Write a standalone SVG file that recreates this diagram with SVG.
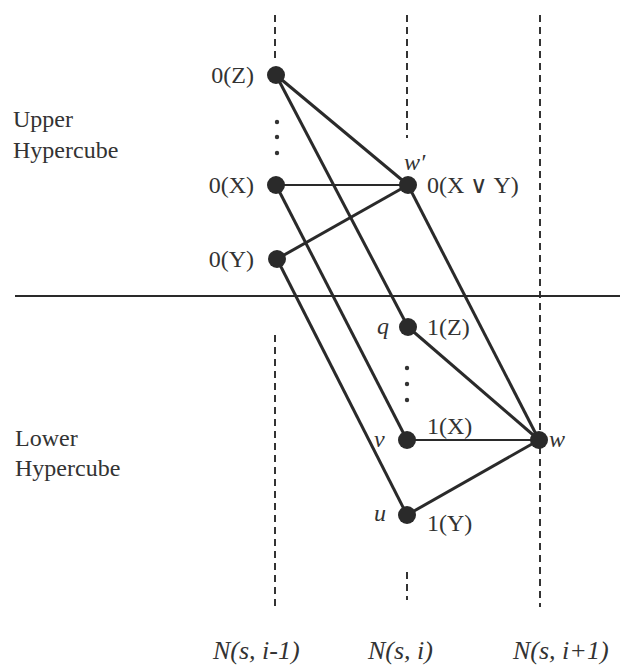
<svg xmlns="http://www.w3.org/2000/svg" width="620" height="665" viewBox="0 0 620 665">
<style>
.dash{stroke:#333;stroke-width:2;stroke-dasharray:7 5;fill:none}
.edge{stroke:#2a2a2a;stroke-width:3;fill:none}
.thin{stroke:#2a2a2a;stroke-width:2;fill:none}
.node{fill:#2a2a2a}
.dot{fill:#333}
text{font-family:"Liberation Serif","Times New Roman",serif;fill:#333;font-size:24px}
.it{font-style:italic}
.col{font-size:26px}
</style>
<rect width="620" height="665" fill="#fff"/>
<g id="guides">
<line class="dash" x1="275" y1="15" x2="275" y2="63"/>
<line class="dash" x1="275" y1="335" x2="275" y2="607"/>
<line class="dash" x1="407" y1="15" x2="407" y2="138"/>
<line class="dash" x1="407" y1="572" x2="407" y2="600"/>
<line class="dash" x1="540" y1="15" x2="540" y2="607"/>
<line x1="15" y1="296" x2="620" y2="296" stroke="#2a2a2a" stroke-width="2"/>
</g>
<g id="connectors">
<line class="edge" x1="276" y1="75" x2="408" y2="185"/>
<line class="edge" x1="276" y1="75" x2="408" y2="327"/>
<line class="thin" x1="276" y1="185" x2="408" y2="185"/>
<line class="edge" x1="276" y1="185" x2="407" y2="440"/>
<line class="edge" x1="277" y1="259" x2="408" y2="185"/>
<line class="edge" x1="277" y1="259" x2="407" y2="515"/>
<line class="edge" x1="408" y1="185" x2="539" y2="440"/>
<line class="edge" x1="408" y1="327" x2="539" y2="440"/>
<line class="thin" x1="407" y1="440" x2="539" y2="440"/>
<line class="edge" x1="407" y1="515" x2="539" y2="440"/>
</g>
<g id="ellipsis-upper">
<circle class="dot" cx="277" cy="122" r="2.2"/>
<circle class="dot" cx="277" cy="137" r="2.2"/>
<circle class="dot" cx="277" cy="153" r="2.2"/>
</g>
<g id="ellipsis-lower">
<circle class="dot" cx="407" cy="368" r="2.2"/>
<circle class="dot" cx="407" cy="384" r="2.2"/>
<circle class="dot" cx="407" cy="400" r="2.2"/>
</g>
<g id="n0Z"><circle class="node" cx="276" cy="75" r="9"/><text x="254" y="83" text-anchor="end">0(Z)</text></g>
<g id="n0X"><circle class="node" cx="276" cy="185" r="9"/><text x="254" y="193" text-anchor="end">0(X)</text></g>
<g id="n0Y"><circle class="node" cx="277" cy="259" r="9"/><text x="254" y="267" text-anchor="end">0(Y)</text></g>
<g id="wprime"><circle class="node" cx="408" cy="185" r="9"/><text class="it" x="404" y="170">w′</text><text x="427" y="193">0(X ∨ Y)</text></g>
<g id="q"><circle class="node" cx="408" cy="327" r="9"/><text class="it" x="377" y="334">q</text><text x="427" y="335">1(Z)</text></g>
<g id="v"><circle class="node" cx="407" cy="440" r="9"/><text class="it" x="374" y="447">v</text><text x="427" y="434">1(X)</text></g>
<g id="w"><circle class="node" cx="539" cy="440" r="9"/><text class="it" x="549" y="447">w</text></g>
<g id="u"><circle class="node" cx="407" cy="515" r="9"/><text class="it" x="374" y="521">u</text><text x="427" y="531">1(Y)</text></g>
<g id="region-labels">
<text x="13" y="127">Upper</text>
<text x="13" y="158">Hypercube</text>
<text x="15" y="446">Lower</text>
<text x="15" y="476">Hypercube</text>
</g>
<g id="column-labels">
<text class="it col" x="213" y="659">N(s, i-1)</text>
<text class="it col" x="368" y="659">N(s, i)</text>
<text class="it col" x="513" y="659">N(s, i+1)</text>
</g>
</svg>
